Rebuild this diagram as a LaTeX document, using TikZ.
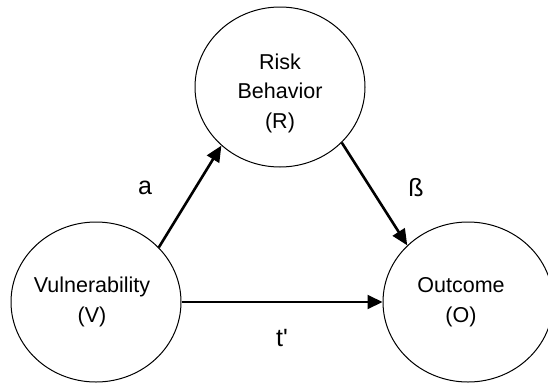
\documentclass[tikz,border=0pt]{standalone}
\usepackage{fontspec}
\setmainfont{Liberation Sans}
\usetikzlibrary{shapes.geometric,arrows.meta}
\begin{document}
\begin{tikzpicture}[x=1pt,y=-1pt,
  var/.style={ellipse,draw,line width=1pt,minimum width=170pt,minimum height=160pt,inner sep=0pt},
  vartext/.style={align=center,inner sep=0pt,font=\fontsize{21.5}{29.5}\selectfont},
  lab/.style={font=\fontsize{25}{28}\selectfont,inner sep=0pt},
  path/.style={-{Triangle[length=16pt,width=14pt]},line width=2.6pt},
  direct/.style={-{Triangle[length=15pt,width=14pt]},line width=2pt}]
\useasboundingbox (0,0) rectangle (548,383);
\node[var] (R) at (280,87) {};
\node[var] (V) at (96,302) {};
\node[var] (O) at (468,302) {};
\node[vartext] (Rt) at (280,93) {Risk\\Behavior\\(R)};
\node[vartext] (Vt) at (92,302) {Vulnerability\\(V)};
\node[vartext] (Ot) at (461,302) {Outcome\\(O)};
\draw[path] (V.41) -- (R.225);
\draw[path] (R.318) -- (O.137);
\draw[direct] (V.0) -- (O.180);
\node[lab] (la) at (145,188) {a};
\node[lab] (lb) at (416,188) {ß};
\node[lab] (lt) at (282,338) {t\textquotesingle};
\end{tikzpicture}
\end{document}
